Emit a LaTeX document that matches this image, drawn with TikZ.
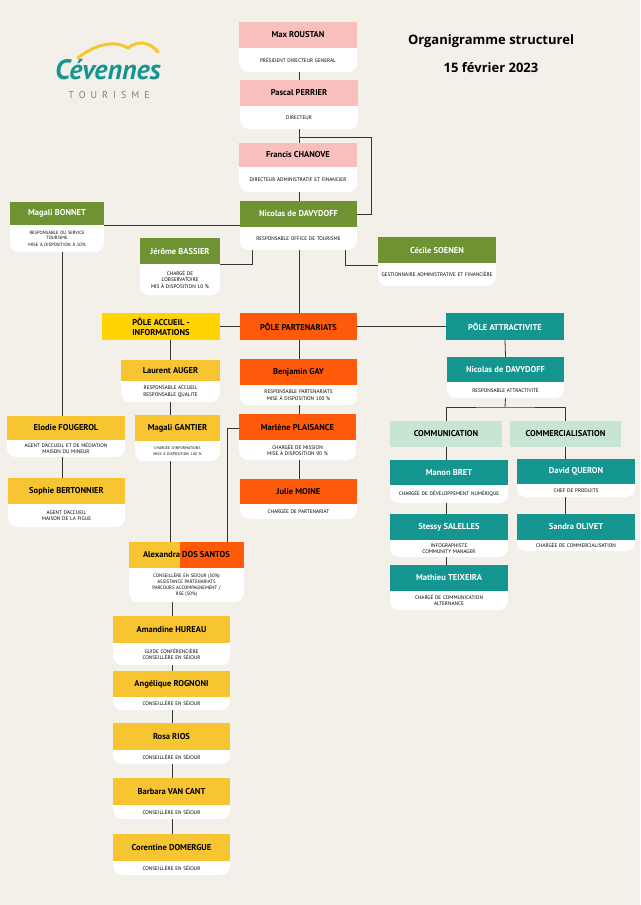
\documentclass[tikz,border=0pt]{standalone}
\usepackage{fontspec}
\setmainfont{PT Sans}
\newfontfamily\titlefont{Open Sans}
\usetikzlibrary{backgrounds}
\definecolor{bgc}{HTML}{F3F0EA}
\definecolor{pinkc}{HTML}{F9BFBC}
\definecolor{greenc}{HTML}{6F9233}
\definecolor{yelc}{HTML}{F7C531}
\definecolor{polec}{HTML}{FFD400}
\definecolor{orac}{HTML}{FF5A0A}
\definecolor{tealc}{HTML}{14958F}
\definecolor{lgc}{HTML}{C7E5D1}
\definecolor{linec}{HTML}{333333}
\tikzset{
 pinkh/.style={fill=pinkc,text=black},
 greenh/.style={fill=greenc,text=white},
 yelh/.style={fill=yelc,text=black},
 poleh/.style={fill=polec,text=black},
 orah/.style={fill=orac,text=black},
 tealh/.style={fill=tealc,text=white},
 lgh/.style={fill=lgc,text=black},
 conn/.style={draw=linec,line width=0.8pt},
}
\newcommand\namefont{\fontsize{8.5}{10}\selectfont\bfseries}
\newcommand\descfont{\fontsize{5.2}{6.4}\selectfont}
% id, x1, y1, x2, y2, y3, style, name, desc
\newcommand\card[9]{%
 \pgfmathsetmacro\cx{(#2+#4)/2}\pgfmathsetmacro\hy{(#3+#5)/2}\pgfmathsetmacro\by{(#5+#6)/2}%
 \pgfmathsetmacro\ww{#4-#2}\pgfmathsetmacro\hh{#5-#3}\pgfmathsetmacro\bh{#6-#5}\pgfmathsetmacro\tw{#4-#2-6}%
 \fill[white,rounded corners=9pt] (#2,#5-12) rectangle (#4,#6);
 \node[#7,minimum width=\ww pt,minimum height=\hh pt,inner sep=0,align=center,font=\namefont] (#1) at (\cx,\hy) {#8};
 \node[minimum width=\ww pt,minimum height=\bh pt,text width=\tw pt,align=center,inner sep=0,font=\descfont] (#1-b) at (\cx,\by) {#9};}
\begin{document}
\begin{tikzpicture}[x=1pt,y=-1pt]
\useasboundingbox (0,0) rectangle (640,905);
\begin{scope}[on background layer]
\fill[bgc] (0,0) rectangle (640,905);
\end{scope}
% logo
\draw[yelc,line width=3pt,line cap=round] (78,58) .. controls (95,44) and (115,40) .. (128,48) .. controls (138,40) and (150,42) .. (158,52);
\node[text=tealc,font=\fontsize{28}{30}\selectfont\itshape\bfseries] (logo) at (108,70) {Cévennes};
\node[text=gray,font=\fontsize{10}{12}\selectfont] (logo2) at (109,95) {T\,\,\,O\,\,\,U\,\,\,R\,\,\,I\,\,\,S\,\,\,M\,\,\,E};
% title
\node[font=\titlefont\bfseries\fontsize{13}{15}\selectfont] (t1) at (491,41) {Organigramme structurel};
\node[font=\titlefont\bfseries\fontsize{13}{15}\selectfont] (t2) at (491,68) {15 février 2023};
% cards
\card{max}{239}{22}{357}{48}{72}{pinkh}{Max ROUSTAN}{PRÉSIDENT DIRECTEUR GENERAL}
\card{pascal}{240}{80}{358}{106}{129}{pinkh}{Pascal PERRIER}{DIRECTEUR}
\card{francis}{239}{143}{357}{167}{192}{pinkh}{Francis CHANOVE}{DIRECTEUR ADMINISTRATIF ET FINANCIER}
\card{nicolas}{240}{201}{357}{227}{250}{greenh}{Nicolas de DAVYDOFF}{RESPONSABLE OFFICE DE TOURISME}
\card{bonnet}{10}{202}{104}{225}{252}{greenh}{Magali BONNET}{\fontsize{4.6}{5.6}\selectfont RESPONSABLE DU SERVICE\\TOURISME\\MISE À DISPOSITION À 10\%}
\card{bassier}{140}{238}{220}{264}{295}{greenh}{Jérôme BASSIER}{CHARGÉ DE\\L'OBSERVATOIRE\\MIS À DISPOSITION 10 \%}
\card{soenen}{378}{237}{496}{263}{286}{greenh}{Cécile SOENEN}{GESTIONNAIRE ADMINISTRATIVE ET FINANCIÈRE}
\node[poleh,minimum width=118pt,minimum height=27pt,inner sep=0,align=center,font=\namefont] (paccueil) at (161,326.5) {PÔLE ACCUEIL -\\INFORMATIONS};
\node[orah,minimum width=117pt,minimum height=27pt,inner sep=0,font=\namefont] (ppart) at (298.5,326.5) {PÔLE PARTENARIATS};
\node[tealh,minimum width=118pt,minimum height=27pt,inner sep=0,font=\namefont] (pattr) at (505,326.5) {PÔLE ATTRACTIVITE};
\card{auger}{121}{360}{220}{381}{402}{yelh}{Laurent AUGER}{RESPONSABLE ACCUEIL\\RESPONSABLE QUALITE}
\card{gantier}{135}{415}{220}{441}{461}{yelh}{Magali GANTIER}{\fontsize{3.8}{4.8}\selectfont CHARGÉE D'INFORMATIONS\\MISE À DISPOSITION 100 \%}
\card{elodie}{7}{416}{125}{440}{457}{yelh}{Elodie FOUGEROL}{AGENT D'ACCUEIL ET DE MÉDIATION\\MAISON DU MINEUR}
\card{sophie}{8}{478}{125}{504}{527}{yelh}{Sophie BERTONNIER}{AGENT D'ACCUEIL\\MAISON DE LA FIGUE}
\card{gay}{240}{359}{357}{385}{405}{orah}{Benjamin GAY}{RESPONSABLE PARTENARIATS\\MISE À DISPOSITION 100 \%}
\card{marlene}{239}{414}{356}{440}{460}{orah}{Marlène PLAISANCE}{CHARGÉE DE MISSION\\MISE À DISPOSITION 90 \%}
\card{julie}{240}{479}{357}{504}{519}{orah}{Julie MOINE}{CHARGÉE DE PARTENARIAT}
% Alexandra
\fill[white,rounded corners=9pt] (129,556) rectangle (244,602);
\fill[yelc] (129,542) rectangle (180,568);
\fill[orac] (180,542) rectangle (244,568);
\node[minimum width=115pt,minimum height=26pt,inner sep=0,font=\namefont] (alex) at (186.5,555) {Alexandra DOS SANTOS};
\node[minimum width=115pt,minimum height=34pt,text width=108pt,align=center,inner sep=0,font=\fontsize{4.8}{5.8}\selectfont] (alex-b) at (186.5,585) {CONSEILLÈRE EN SÉJOUR (50\%)\\ASSISTANCE PARTENARIATS\\PARCOURS ACCOMPAGNEMENT /\\RSE (50\%)};
\card{amandine}{113}{616}{230}{643}{665}{yelh}{Amandine HUREAU}{GUIDE CONFÉRENCIÈRE\\CONSEILLÈRE EN SÉJOUR}
\card{angelique}{113}{671}{230}{697}{710}{yelh}{Angélique ROGNONI}{CONSEILLÈRE EN SÉJOUR}
\card{rosa}{113}{723}{230}{750}{764}{yelh}{Rosa RIOS}{CONSEILLÈRE EN SÉJOUR}
\card{barbara}{113}{778}{230}{805}{819}{yelh}{Barbara VAN CANT}{CONSEILLÈRE EN SÉJOUR}
\card{corentine}{113}{834}{230}{861}{875}{yelh}{Corentine DOMERGUE}{CONSEILLÈRE EN SÉJOUR}
\card{nic2}{447}{357}{564}{382}{398}{tealh}{Nicolas de DAVYDOFF}{RESPONSABLE ATTRACTIVITÉ}
\node[lgh,minimum width=112pt,minimum height=26pt,inner sep=0,font=\namefont] (comm) at (446,434) {COMMUNICATION};
\node[lgh,minimum width=111pt,minimum height=26pt,inner sep=0,font=\namefont] (commer) at (565.5,434) {COMMERCIALISATION};
\card{manon}{390}{460}{508}{485}{503}{tealh}{Manon BRET}{CHARGÉE DE DÉVELOPPEMENT NUMÉRIQUE}
\card{david}{517}{459}{635}{484}{497}{tealh}{David QUERON}{CHEF DE PRODUITS}
\card{stessy}{390}{514}{508}{540}{557}{tealh}{Stessy SALELLES}{INFOGRAPHISTE\\COMMUNITY MANAGER}
\card{sandra}{517}{514}{635}{540}{551}{tealh}{Sandra OLIVET}{CHARGÉE DE COMMERCIALISATION}
\card{mathieu}{390}{565}{508}{591}{610}{tealh}{Mathieu TEIXEIRA}{CHARGÉ DE COMMUNICATION\\ALTERNANCE}
% connectors
\begin{scope}[on background layer]
\coordinate (k1) at (371,137);
\coordinate (k2) at (227,0);
\coordinate (k3) at (505,407);
\coordinate (k4) at (170,0);
\coordinate (k5) at (62,0);
\coordinate (k6) at (172,0);
\coordinate (k7) at (299,0);
\path[conn] (k7 |- max-b.south) -- (k7 |- pascal.north);
\path[conn] (k7 |- pascal-b.south) -- (k7 |- francis.north);
\path[conn] (k1 -| k7) -- (k1) |- (nicolas.east);
\path[conn] (k7 |- francis-b.south) -- (k7 |- nicolas.north);
\path[conn] (bonnet.south east) -- (bonnet.south east -| nicolas.west);
\path[conn] (k5 |- bonnet-b.south) -- (k5 |- elodie.north);
\path[conn] (k5 |- elodie-b.south) -- (k5 |- sophie.north);
\path[conn] ([xshift=-46pt]nicolas-b.south) |- (bassier.south east);
\path[conn] ([xshift=47pt]nicolas-b.south) |- ([yshift=-2pt]soenen.south west);
\path[conn] (k7 |- nicolas-b.south) -- (k7 |- ppart.north);
\path[conn] (paccueil.east) -- (ppart.west);
\path[conn] (ppart.east) -- (pattr.west);
\path[conn] (k4 |- paccueil.south) -- (k4 |- auger.north);
\path[conn] (k4 |- auger-b.south) -- (k4 |- gantier.north);
\path[conn] (k4 |- gantier-b.south) -- (k4 |- alex.north);
\path[conn] ([yshift=-1pt]marlene.west) -| (k2 |- alex.north);
\path[conn] (k7 |- ppart.south) -- (k7 |- gay.north);
\path[conn] (k7 |- gay-b.south) -- (k7 |- marlene.north);
\path[conn] (k7 |- marlene-b.south) -- (k7 |- julie.north);
\path[conn] (k6 |- alex-b.south) -- (k6 |- amandine.north);
\path[conn] (k6 |- amandine-b.south) -- (k6 |- angelique.north);
\path[conn] (k6 |- angelique-b.south) -- (k6 |- rosa.north);
\path[conn] (k6 |- rosa-b.south) -- (k6 |- barbara.north);
\path[conn] (k6 |- barbara-b.south) -- (k6 |- corentine.north);
\path[conn] (pattr.south) -- (nic2.north);
\path[conn] (nic2-b.south) -- (k3);
\path[conn] (comm.north) |- (k3) -| (commer.north);
\path[conn] (comm.south) -- (comm.south |- manon.north);
\path[conn] (commer.south) -- (commer.south |- david.north);
\path[conn] (comm.south |- manon-b.south) -- (comm.south |- stessy.north);
\path[conn] (comm.south |- stessy-b.south) -- (comm.south |- mathieu.north);
\path[conn] (commer.south |- david-b.south) -- (commer.south |- sandra.north);
\end{scope}
\end{tikzpicture}
\end{document}
